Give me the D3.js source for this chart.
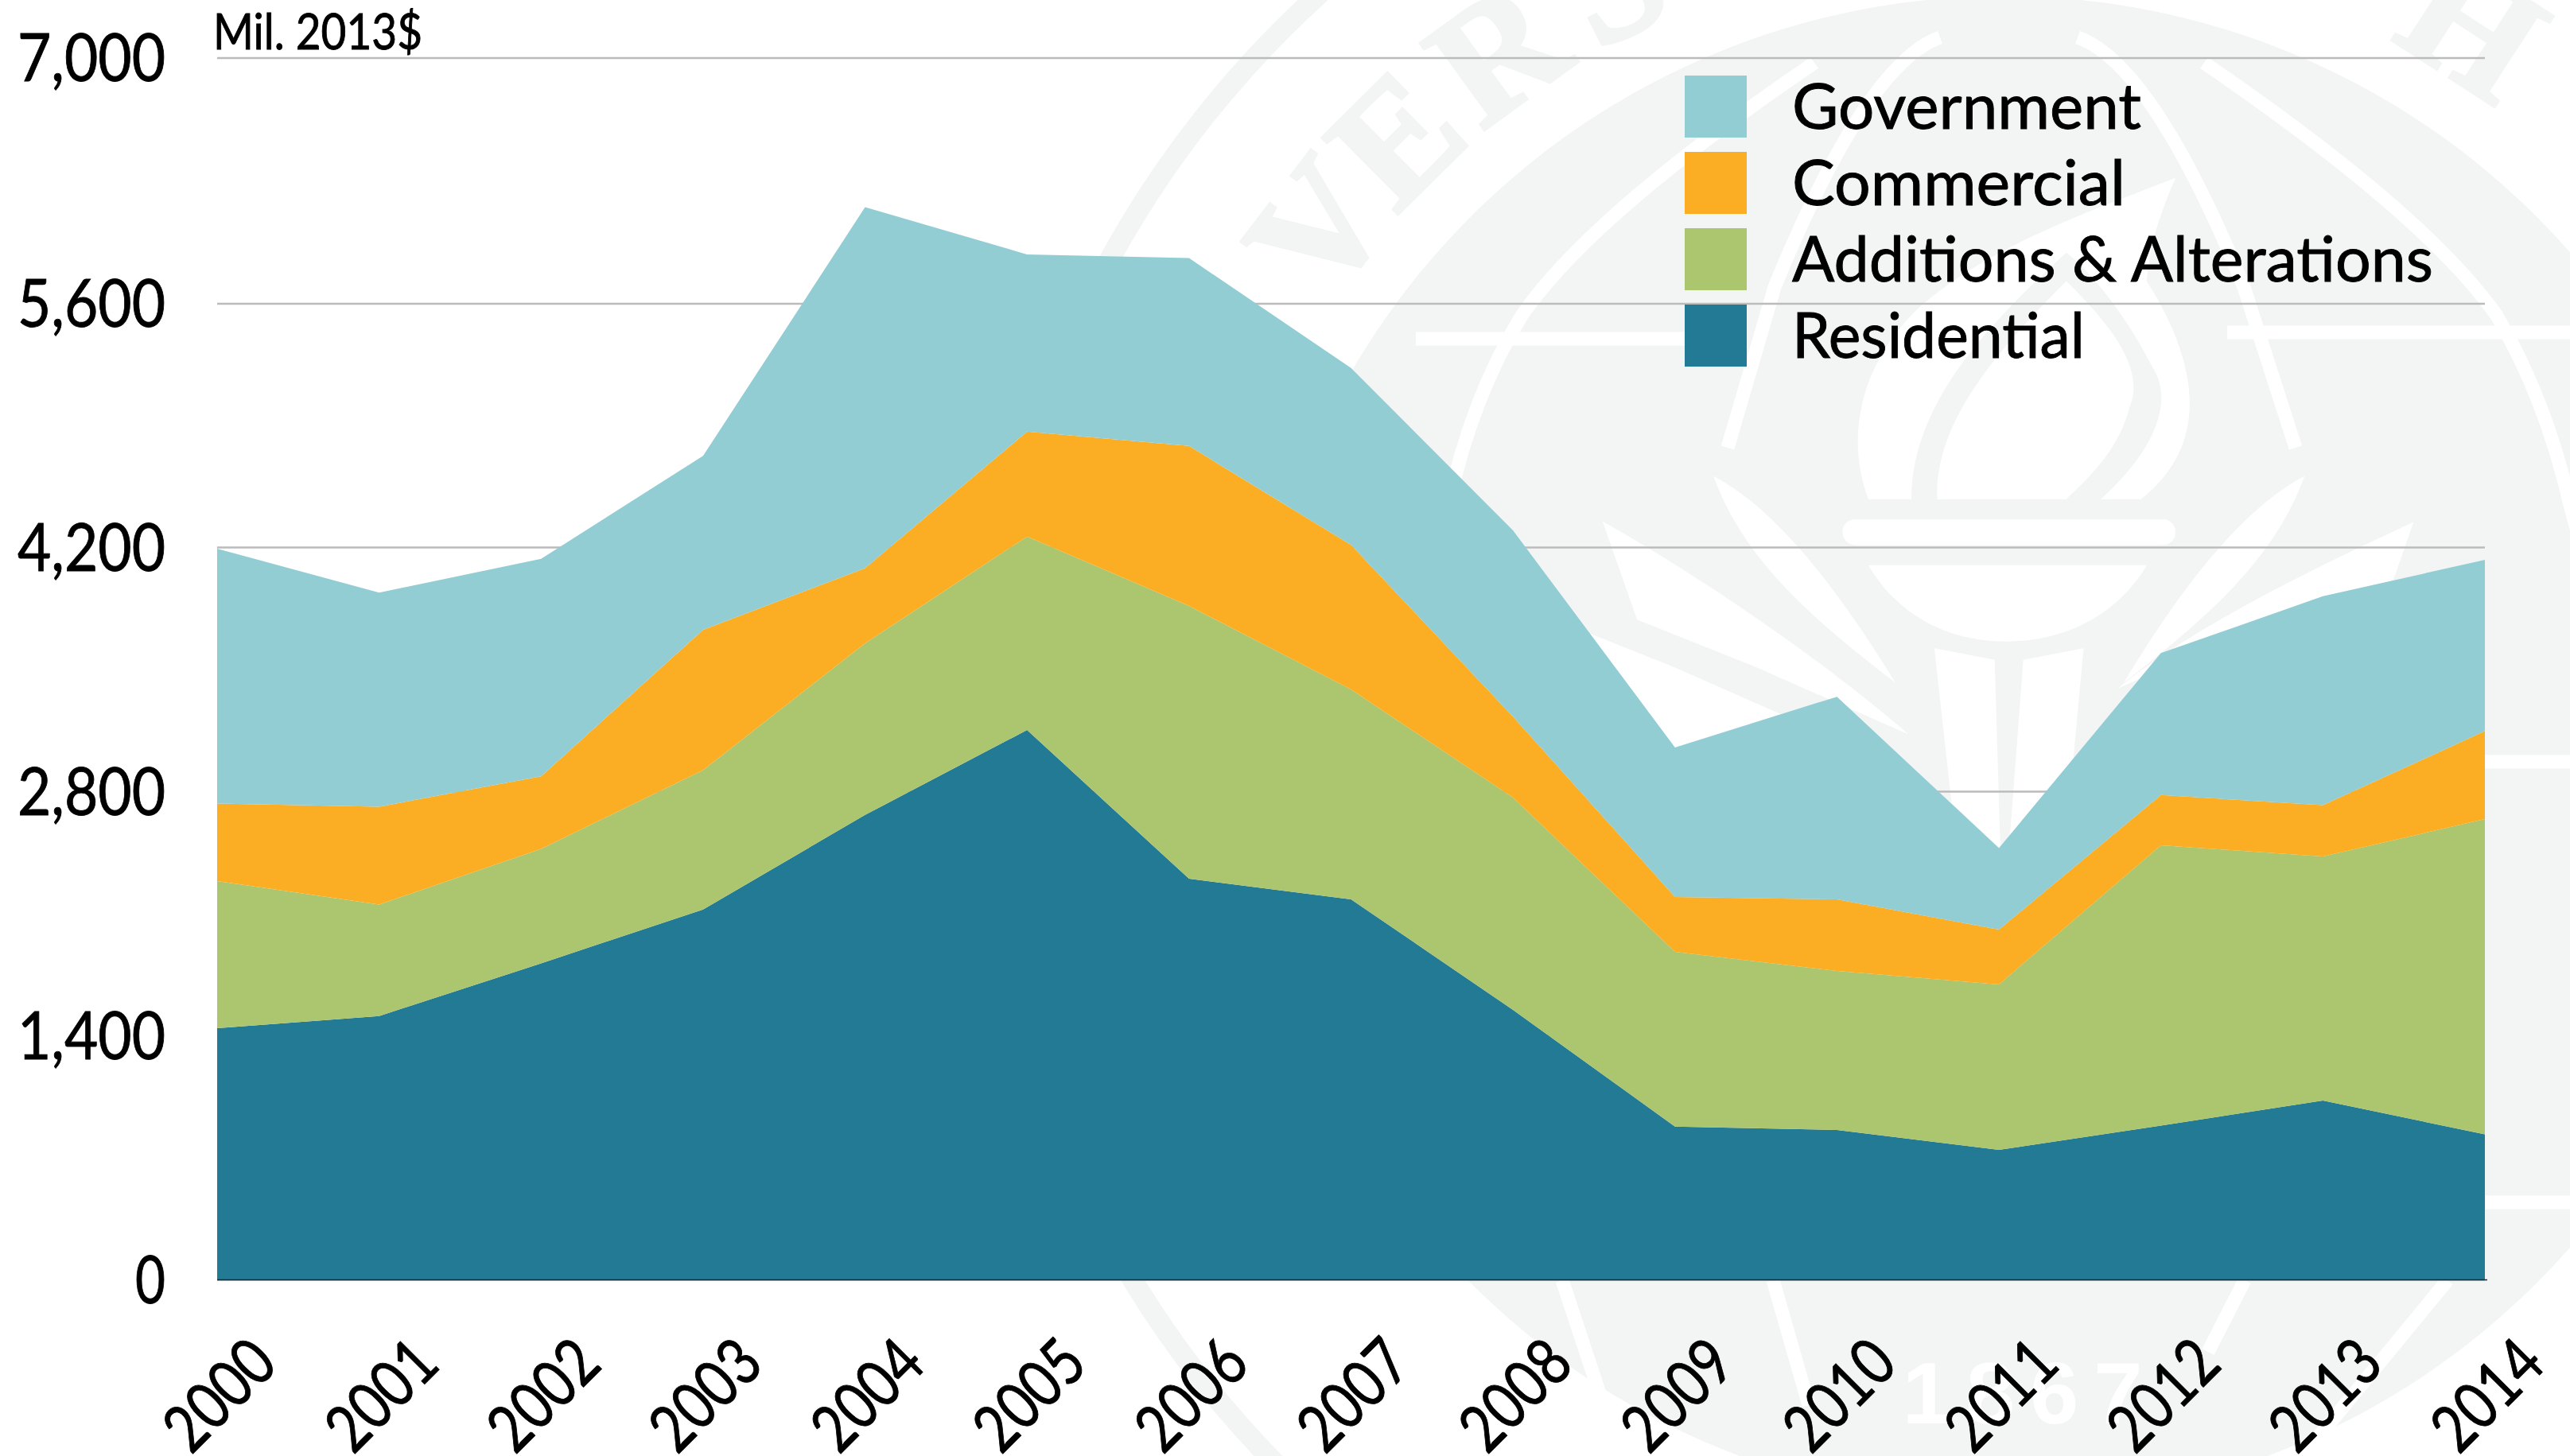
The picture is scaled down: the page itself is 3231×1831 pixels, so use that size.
<!DOCTYPE html>
<html><head><meta charset="utf-8">
<script src="https://cdn.jsdelivr.net/npm/d3@7"></script>
<style>html,body{margin:0;padding:0;background:#fff;overflow:hidden}svg{display:block}text{font-family:Lato,"Open Sans",sans-serif;fill:#000}.ink text,text.ink{stroke:#000;stroke-width:.9px}</style>
</head><body>
<script>
const years=[2000,2001,2002,2003,2004,2005,2006,2007,2008,2009,2010,2011,2012,2013,2014];
const residential=[1441,1511,1813,2122,2664,3151,2298,2180,1546,877,857,743,882,1026,832];
const additions=[844,639,656,799,984,1110,1564,1204,1217,1002,912,949,1608,1400,1808];
const commercial=[444,561,417,805,431,602,919,828,465,314,411,314,288,294,505];
const government=[1462,1228,1247,998,2069,1016,1077,1017,1068,858,1162,468,814,1198,982];
const yTicks=[0,1400,2800,4200,5600,7000];
const seriesNames=["Residential","Additions & Alterations","Commercial","Government"];
const seriesValues=[residential,additions,commercial,government];
const seriesColors=["#237a94","#acc66f","#fbae24","#92cdd4"];
const legendOrder=["Government","Commercial","Additions & Alterations","Residential"];
const legendWidths=[437,417,804,366];
const unitLabel="Mil. 2013$";

const W=3231,H=1831;
const svg=d3.select("body").append("svg").attr("width",W).attr("height",H).attr("viewBox",`0 0 ${W} ${H}`);

/* watermark seal */
const wm="#f3f5f4",cx=2519,cy=943;
const bg=svg.append("g").attr("class","watermark");
bg.append("circle").attr("cx",cx).attr("cy",cy).attr("r",1282).attr("fill","none").attr("stroke",wm).attr("stroke-width",26);
bg.append("circle").attr("cx",cx).attr("cy",cy).attr("r",948).attr("fill",wm);
[["V",-52.7],["E",-44.8],["R",-36],["S",-27],["H",33]].forEach(([c,a])=>{
  bg.append("text").text(c).attr("x",cx).attr("y",cy-1015).attr("text-anchor","middle")
    .attr("transform",`rotate(${a},${cx},${cy})`)
    .style("font-family","'Liberation Serif',serif").style("font-weight","700").style("font-size","205px")
    .style("fill",wm).style("stroke",wm).style("stroke-width","5px");
});
const whiteLines=[
 "M2771,79 Q3050,270 3139,397 Q3200,500 3231,635 L3330,1000",
 "M2281,79 Q2000,270 1913,397 Q1850,500 1821,635 L1722,1000",
 "M2612,47 Q2706,80 2821,361 L2886,563",
 "M2439,47 Q2346,80 2231,361 L2172,563",
 "M1780,426 L2170,426","M2800,418 L3231,418","M3124,958 L3231,958","M3124,1512 L3231,1512",
 "M1964,1610 L2037,1831","M2229,1610 L2274,1767","M2822,1610 L2776,1700","M3077,1610 L2895,1831"];
whiteLines.forEach(d=>bg.append("path").attr("d",d).attr("fill","none").attr("stroke","#fff").attr("stroke-width",17));
const zoomed=bg.append("g").attr("transform","translate(2100,0) scale(.7215)").attr("fill","#fff");
["M465,870 C460,740 560,620 690,490 C760,560 830,640 800,710 C780,790 720,840 690,870 Z",
 "M345,870 C300,750 340,620 440,530 C560,430 700,380 880,310 C850,380 835,430 830,490 C 900,600 960,760 820,870 L750,870 C840,790 880,700 840,640 C800,560 740,480 690,440 C560,560 420,700 420,870 Z",
 "M345,985 L830,985 C780,1070 690,1118 585,1118 C480,1118 395,1070 345,985 Z",
 "M75,830 C190,890 300,1040 392,1190 C250,1080 130,980 75,830 Z",
 "M1105,830 C990,890 880,1040 790,1190 C930,1080 1050,980 1105,830 Z",
 "M-118,909 C0,975 230,1120 415,1280 L152,1164 L-58,1080 Z",
 "M1295,910 C1100,1000 900,1100 780,1200 C900,1140 1130,1090 1260,1010 Z",
 "M-139,1105 L0,1160 L420,1345 L-139,1420 Z",
 "M460,1130 L565,1150 L575,1480 L490,1400 Z","M720,1130 L615,1150 L590,1480 L695,1400 Z"
].forEach(d=>zoomed.append("path").attr("d",d));
zoomed.append("rect").attr("x",300).attr("y",905).attr("width",580).attr("height",45).attr("rx",22);
bg.append("text").text("1867").attr("x",2552).attr("y",1790).attr("text-anchor","middle")
  .style("font-family","'Liberation Sans',sans-serif").style("font-weight","700").style("font-size","110px").style("letter-spacing","19px").style("fill","#fff");

/* scales */
const x=d3.scaleLinear().domain(d3.extent(years)).range([273,3124]);
const y=d3.scaleLinear().domain(yTicks).range([1609,1302,995,688,381.5,72.5]);

/* y axis with grid */
const yAxis=d3.axisLeft(y).tickValues(yTicks).tickFormat(d3.format(",")).tickSize(-(x.range()[1]-x.range()[0])).tickPadding(65);
const yg=svg.append("g").attr("class","ink").attr("transform",`translate(${x.range()[0]},0)`).call(yAxis);
yg.select(".domain").remove();
yg.selectAll("line").attr("stroke","#bbbbbb").attr("stroke-width",2.4);
yg.selectAll("text").attr("dy",null).attr("y",29).style("font-size","83px")
  .attr("textLength",d=>d===0?38:186).attr("lengthAdjust","spacingAndGlyphs");

/* stacked areas */
const table=years.map((yr,i)=>{const o={year:yr};seriesNames.forEach((n,j)=>o[n]=seriesValues[j][i]);return o;});
const stacked=d3.stack().keys(seriesNames)(table);
const area=d3.area().x(d=>x(d.data.year)).y0(d=>y(d[0])).y1(d=>y(d[1]));
svg.append("g").selectAll("path").data(stacked).join("path")
  .attr("d",area).attr("fill",(d,i)=>seriesColors[i]);

/* x axis */
const xAxis=d3.axisBottom(x).tickValues(years).tickFormat(d3.format("d")).tickSize(0);
const xg=svg.append("g").attr("class","ink").attr("transform",`translate(0,${y(0)})`).call(xAxis);
xg.select(".domain").attr("d",`M${x.range()[0]},0.5H${x.range()[1]+3}`).attr("stroke","#0f2f3a").attr("stroke-width",1.6);
xg.selectAll("text").attr("y",null).attr("dy",null).attr("text-anchor","middle")
  .attr("transform","translate(0,143) rotate(-45)").attr("dominant-baseline","central")
  .style("font-size","83px").attr("textLength",158).attr("lengthAdjust","spacingAndGlyphs");

/* unit label */
svg.append("text").attr("class","ink").text(unitLabel).attr("x",268).attr("y",61.5).style("font-size","62px")
  .attr("textLength",263).attr("lengthAdjust","spacingAndGlyphs");

/* legend */
const colorOf=d3.scaleOrdinal().domain(seriesNames).range(seriesColors);
const band=d3.scaleLinear().domain([0,1]).range([95,191]);
const lg=svg.append("g").attr("class","ink").selectAll("g").data(legendOrder).join("g");
lg.append("rect").attr("x",2118).attr("y",(d,i)=>band(i)).attr("width",78).attr("height",78).attr("fill",d=>colorOf(d));
lg.append("text").text(d=>d).attr("x",2253).attr("y",(d,i)=>band(i)+67).style("font-size","80px")
  .attr("textLength",(d,i)=>legendWidths[i]+2).attr("lengthAdjust","spacingAndGlyphs");
</script>
</body></html>
